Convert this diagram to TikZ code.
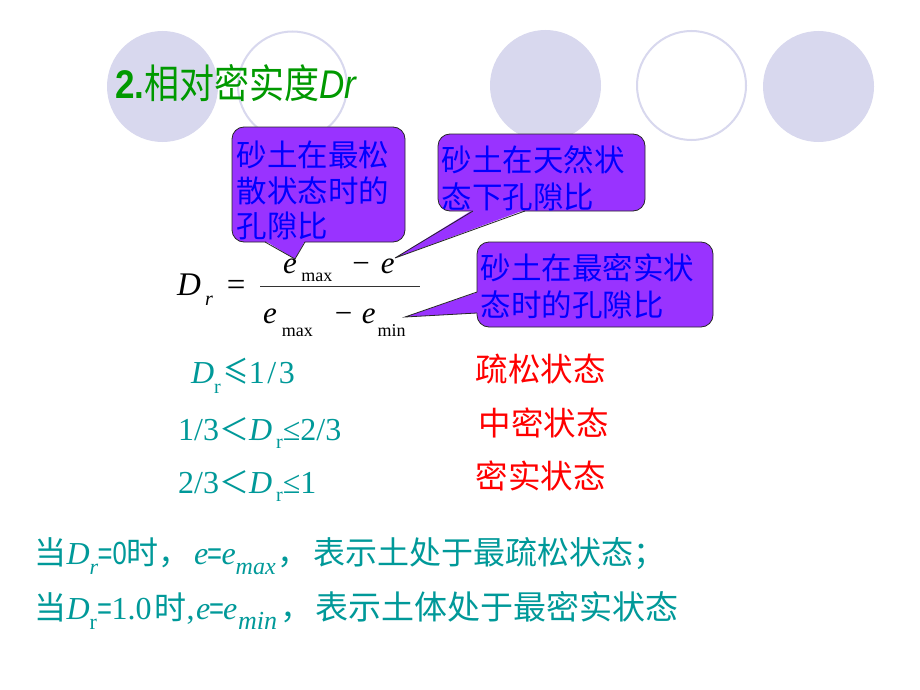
\documentclass[tikz,border=0pt]{standalone}
\usepackage{fontspec}
\usepackage{graphicx}
\setmainfont{Liberation Serif}
\newfontfamily\cjk{Noto Sans CJK SC}
\newfontfamily\arialf{Liberation Sans}
\definecolor{ringc}{RGB}{216,216,238}
\definecolor{titlegreen}{RGB}{0,153,0}
\definecolor{tealc}{RGB}{0,153,153}
\definecolor{bubblefill}{RGB}{153,51,255}
\definecolor{bubbletext}{RGB}{0,0,255}
\definecolor{redc}{RGB}{255,0,0}
\begin{document}
\begin{tikzpicture}[x=1pt,y=-1pt,
  bubble/.style={draw=black!85, line width=0.8pt, fill=bubblefill, rounded corners=12pt, inner sep=0pt},
  bubtext/.style={anchor=base west, inner sep=0pt, text=bubbletext, font=\cjk\fontsize{30.5}{30.5}\selectfont},
  ringfill/.style={circle, fill=ringc, minimum size=111pt, inner sep=0pt},
  ringline/.style={circle, draw=ringc, line width=2pt, minimum size=109pt, inner sep=0pt},
  tealtxt/.style={anchor=base west, inner sep=0pt, text=tealc, font=\fontsize{32}{32}\selectfont},
  redtxt/.style={anchor=base west, inner sep=0pt, text=redc, font=\cjk\fontsize{32.5}{32.5}\selectfont},
  formula/.style={anchor=base west, inner sep=0pt, text=black, font=\fontsize{31}{31}\selectfont},
  ptrfill/.style={fill=bubblefill},
  ptrline/.style={draw=black!85, line width=0.8pt, line join=miter}
]
\useasboundingbox (0,0) rectangle (920,690);
\fill[white] (0,0) rectangle (920,690);

% decorative circles
\node[ringfill] (c1) at (162.5,86.5) {};
\node[ringline] (c2) at (292.5,86) {};
\node[ringfill] (c3) at (545.5,85.5) {};
\node[ringline] (c4) at (691.5,85.5) {};
\node[ringfill] (c5) at (818.5,86.5) {};

% title
\node[anchor=base west, inner sep=0pt, text=titlegreen, font=\fontsize{40}{40}\selectfont] (title) at (115,99)
  {\scalebox{0.875}[1]{{\arialf\bfseries 2.}{\cjk 相对密实度}{\arialf\itshape Dr}}};

% formula
\node[formula, font=\fontsize{33}{33}\selectfont] (lhs) at (177,295)
  {\textit{D}\hspace{4pt}\raisebox{-10pt}{\fontsize{20}{20}\selectfont\textit{r}}\hspace{14pt}=};
\node[formula] (num) at (283,273.3)
  {\textit{e}\hspace{4.5pt}\raisebox{-8.4pt}{\fontsize{18}{18}\selectfont max}\hspace{20pt}−\hspace{11pt}\textit{e}};
\node[formula] (den) at (263,323.3)
  {\textit{e}\hspace{5pt}\raisebox{-13.4pt}{\fontsize{18}{18}\selectfont max}\hspace{22pt}−\hspace{9.5pt}\textit{e}\hspace{2pt}\raisebox{-13.4pt}{\fontsize{18}{18}\selectfont min}};
\coordinate (barL) at (260,286);
\coordinate (barR) at (420,286);
\draw[line width=0.8pt, black!80] (barL) -- (barR);

% callout 1
\coordinate (tip1) at (295,259);
\coordinate (b1a) at (265,242);
\coordinate (b1b) at (305,242);
\node[bubble, minimum width=173pt, minimum height=115pt] (co1) at (318.5,184.5) {};
\fill[ptrfill] (265,240.8) -- (tip1) -- (305,240.8) -- cycle;
\draw[ptrline] (b1a) -- (tip1) -- (b1b);
\node[bubtext] (t1a) at (236.5,166) {砂土在最松};
\node[bubtext] (t1b) at (236.5,202) {散状态时的};
\node[bubtext] (t1c) at (236.5,237.5) {孔隙比};

% callout 2
\coordinate (tip2) at (395,258);
\coordinate (b2a) at (473,211);
\coordinate (b2b) at (525,211);
\node[bubble, minimum width=207pt, minimum height=77pt] (co2) at (541.5,172.5) {};
\fill[ptrfill] (473,209.8) -- (tip2) -- (525,209.8) -- cycle;
\draw[ptrline] (b2a) -- (tip2) -- (b2b);
\node[bubtext] (t2a) at (441.5,171) {砂土在天然状};
\node[bubtext] (t2b) at (441.5,208) {态下孔隙比};

% callout 3
\coordinate (tip3) at (405,317);
\coordinate (b3a) at (477,292);
\coordinate (b3b) at (477,313);
\node[bubble, minimum width=236pt, minimum height=85pt] (co3) at (595,284.5) {};
\fill[ptrfill] (478.2,292) -- (tip3) -- (478.2,313) -- cycle;
\draw[ptrline] (b3a) -- (tip3) -- (b3b);
\node[bubtext] (t3a) at (480.5,279) {砂土在最密实状};
\node[bubtext] (t3b) at (480.5,316) {态时的孔隙比};

% conditions
\node[tealtxt] (r1) at (191,383)
  {\makebox[23pt][l]{\textit{D}}\makebox[9pt][l]{\raisebox{-10pt}{\fontsize{20}{20}\selectfont r}}\scalebox{0.8}[1]{\cjk ≤}\makebox[16pt][c]{1}\makebox[14pt][c]{/}\makebox[16pt][c]{3}};
\node[tealtxt] (r2) at (178,440)
  {1/3\makebox[30pt][c]{\cjk\fontsize{30}{30}\selectfont ＜}\textit{D}\hspace{4pt}\raisebox{-8pt}{\fontsize{20}{20}\selectfont r}≤2/3};
\node[tealtxt] (r3) at (178,493)
  {2/3\makebox[30pt][c]{\cjk\fontsize{30}{30}\selectfont ＜}\textit{D}\hspace{4pt}\raisebox{-8pt}{\fontsize{20}{20}\selectfont r}≤1};
\node[redtxt] (s1) at (475.5,381.5) {疏松状态};
\node[redtxt] (s2) at (478.5,435) {中密状态};
\node[redtxt] (s3) at (475.5,488.5) {密实状态};

% bottom statements
\node[tealtxt] (l1) at (34.5,564.7)
  {\makebox[32pt][l]{\cjk 当}\makebox[23pt][l]{\textit{D}}\makebox[8pt][l]{\raisebox{-10pt}{\fontsize{22}{22}\selectfont\textit{r}}}\makebox[29pt][l]{\arialf\scalebox{0.8}[1]{=0}}{\cjk 时，}\hspace{3.5pt}\makebox[13.5pt][l]{\textit{e}}\makebox[14pt][c]{\arialf\scalebox{0.8}[1]{=}}\makebox[14pt][l]{\textit{e}}\raisebox{-10pt}{\fontsize{24}{24}\selectfont\textit{max}}\hspace{1.5pt}{\cjk ，}\hspace{4.5pt}{\cjk 表示土处于最疏松状态；}};
\node[tealtxt] (l2) at (34.5,619.7)
  {\makebox[32pt][l]{\cjk 当}\makebox[23pt][l]{\textit{D}}\makebox[8pt][l]{\raisebox{-10pt}{\fontsize{22}{22}\selectfont r}}\makebox[14pt][c]{\arialf\scalebox{0.8}[1]{=}}1.0\hspace{3pt}{\cjk 时},\hspace{1.5pt}\makebox[14pt][l]{\textit{e}}\makebox[13pt][c]{\arialf\scalebox{0.8}[1]{=}}\makebox[15pt][l]{\textit{e}}\raisebox{-10pt}{\fontsize{26}{26}\selectfont\textit{min}}\hspace{3pt}{\cjk ，}\hspace{3.5pt}{\cjk\fontsize{33}{33}\selectfont 表示土体处于最密实状态}};
\end{tikzpicture}
\end{document}
